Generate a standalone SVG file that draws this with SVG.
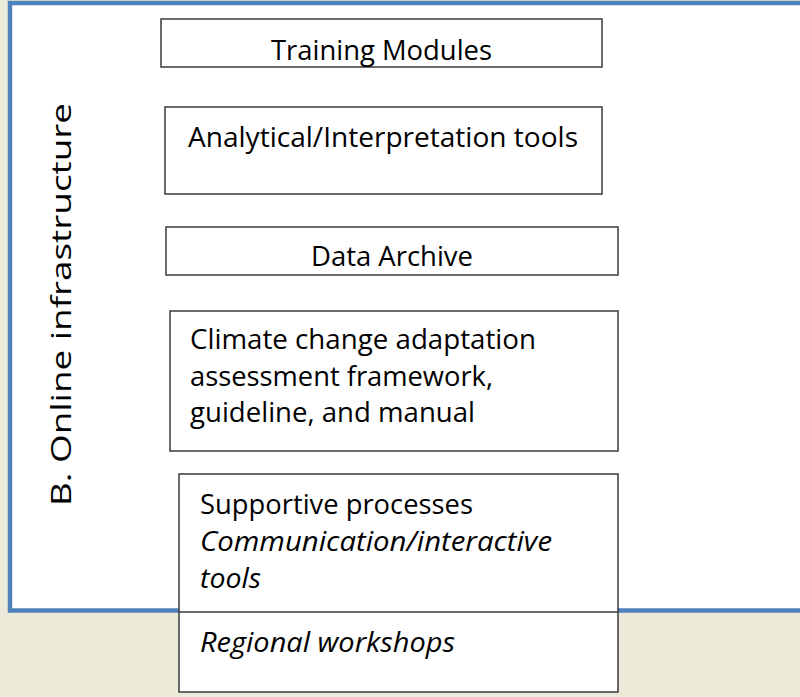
<svg xmlns="http://www.w3.org/2000/svg" width="800" height="697" viewBox="0 0 800 697">
  <style>
    .box { fill: #ffffff; stroke: #3a3a3a; stroke-width: 1.5; }
    .t { font-family: "Open Sans", "Noto Sans", "DejaVu Sans", sans-serif; font-size: 28px; fill: #000000; }
    .c { text-anchor: middle; }
    .i { font-style: italic; }
  </style>
  <rect x="0" y="0" width="800" height="697" fill="#ECEBD9"/>
  <g id="frame">
    <rect x="10" y="3" width="800" height="607.5" fill="#ffffff" stroke="#4F81BD" stroke-width="4.5"/>
    <text class="t" transform="translate(71,506) rotate(-90)" font-size="38" textLength="403" lengthAdjust="spacingAndGlyphs">B. Online infrastructure</text>
  </g>
  <g id="connectors"/>
  <g id="training-modules">
    <rect class="box" x="161" y="19" width="441" height="48"/>
    <text class="t c" x="381.5" y="60" textLength="221" lengthAdjust="spacingAndGlyphs">Training Modules</text>
  </g>
  <g id="analytical-tools">
    <rect class="box" x="165" y="107" width="437" height="87"/>
    <text class="t c" x="383" y="147" textLength="390" lengthAdjust="spacingAndGlyphs">Analytical/Interpretation tools</text>
  </g>
  <g id="data-archive">
    <rect class="box" x="166" y="227" width="452" height="48"/>
    <text class="t c" x="392" y="266" textLength="162" lengthAdjust="spacingAndGlyphs">Data Archive</text>
  </g>
  <g id="framework">
    <rect class="box" x="170" y="311" width="448" height="140"/>
    <text class="t" x="190" y="349" textLength="346" lengthAdjust="spacingAndGlyphs">Climate change adaptation</text>
    <text class="t" x="190" y="386" textLength="303" lengthAdjust="spacingAndGlyphs">assessment framework,</text>
    <text class="t" x="190" y="422" textLength="285" lengthAdjust="spacingAndGlyphs">guideline, and manual</text>
  </g>
  <g id="supportive-processes">
    <rect class="box" x="179" y="474" width="439" height="218"/>
    <line x1="179" y1="612" x2="618" y2="612" stroke="#3a3a3a" stroke-width="1.5"/>
    <text class="t" x="200" y="514" textLength="273" lengthAdjust="spacingAndGlyphs">Supportive processes</text>
    <text class="t i" x="200" y="551" textLength="352" lengthAdjust="spacingAndGlyphs">Communication/interactive</text>
    <text class="t i" x="200" y="588" textLength="61" lengthAdjust="spacingAndGlyphs">tools</text>
    <text class="t i" x="200" y="652" textLength="255" lengthAdjust="spacingAndGlyphs">Regional workshops</text>
  </g>
</svg>
